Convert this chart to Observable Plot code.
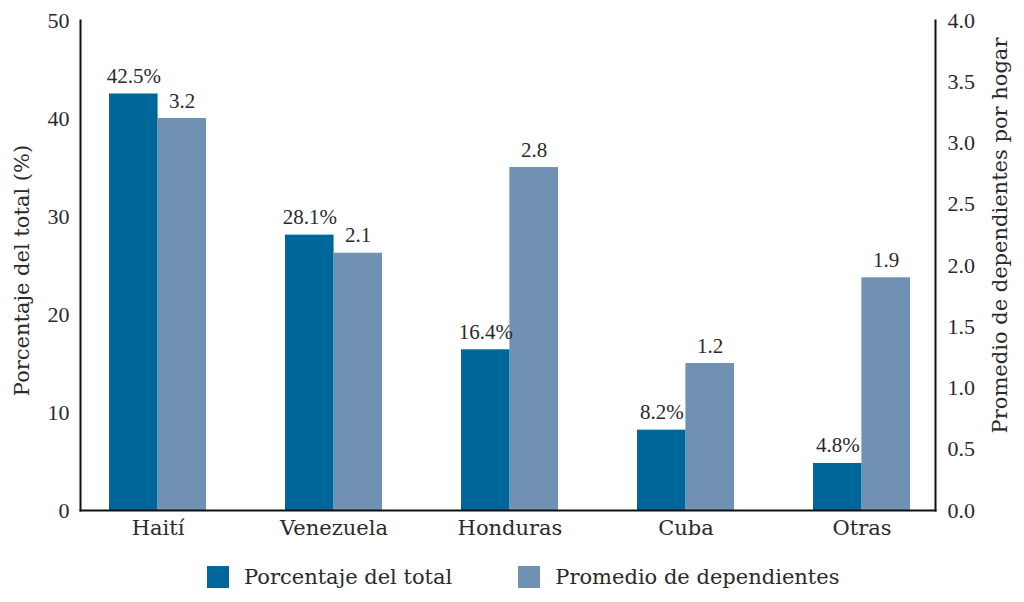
<!DOCTYPE html>
<html>
<head>
<meta charset="utf-8">
<script src="https://cdn.jsdelivr.net/npm/d3@7"></script>
<script src="https://cdn.jsdelivr.net/npm/@observablehq/plot@0.6"></script>
<style>
  html, body { margin: 0; padding: 0; background: #fff; }
  body { width: 1024px; height: 602px; overflow: hidden; font-family: "DejaVu Serif", serif; color: #2a2a2a; }
  #chart svg { display: block; }
  .legend { display: flex; justify-content: flex-start; align-items: center; font-size: 21px; margin-top: 17px; padding-left: 207px; }
  .legend .item { display: flex; align-items: center; gap: 15px; }
  .legend .sw { width: 22px; height: 22px; display: inline-block; }
</style>
</head>
<body>
<div id="chart"></div>
<div class="legend" id="legend"></div>
<script>
const countries = ["Haití", "Venezuela", "Honduras", "Cuba", "Otras"];
const pctTotal = [42.5, 28.1, 16.4, 8.2, 4.8];
const dependents = [3.2, 2.1, 2.8, 1.2, 1.9];
const leftTicks = [0, 10, 20, 30, 40, 50];
const rightTicks = [0, 0.5, 1, 1.5, 2, 2.5, 3, 3.5, 4];
const seriesNames = ["Porcentaje del total", "Promedio de dependientes"];
const colors = ["#00679b", "#7191b4"];
const leftTitle = "Porcentaje del total (%)";
const rightTitle = "Promedio de dependientes por hogar";

const ratio = 50 / 4; // right axis (0–4) mapped onto left axis (0–50)
const pctData = countries.map((c, i) => ({country: c, value: pctTotal[i]}));
const depData = countries.map((c, i) => ({country: c, value: dependents[i], scaled: dependents[i] * ratio}));

const half = 96.8 / 2;
const numFont = "Liberation Serif, serif";
const wordFont = "DejaVu Serif, serif";

const plot = Plot.plot({
  width: 1024,
  height: 548,
  marginTop: 20,
  marginBottom: 38,
  marginLeft: 80,
  marginRight: 89,
  style: {fontFamily: wordFont, fontSize: "20px", color: "#2a2a2a", background: "white"},
  x: {domain: countries, range: [69, 949], paddingInner: 0.45, paddingOuter: 0.225, label: null},
  y: {domain: [0, 50], label: null},
  marks: [
    Plot.barY(pctData, {x: "country", y: "value", fill: colors[0], insetRight: half}),
    Plot.barY(depData, {x: "country", y: "scaled", fill: colors[1], insetLeft: half}),
    Plot.text(pctData, {x: "country", y: "value", text: d => d.value.toFixed(1) + "%", dx: -half / 2, dy: -11, lineAnchor: "bottom", fontSize: 21, fontFamily: numFont, fill: "#2a2a2a"}),
    Plot.text(depData, {x: "country", y: "scaled", text: d => d.value.toFixed(1), dx: half / 2, dy: -11, lineAnchor: "bottom", fontSize: 21, fontFamily: numFont, fill: "#2a2a2a"}),
    Plot.axisX({tickSize: 0, tickPadding: 10, fontSize: 21, fontFamily: wordFont, label: null}),
    Plot.axisY({anchor: "left", ticks: leftTicks, tickSize: 0, tickPadding: 11, fontSize: 22, fontFamily: numFont, label: null}),
    Plot.axisY({anchor: "right", ticks: rightTicks.map(v => v * ratio), tickFormat: d => (d / ratio).toFixed(1), tickSize: 0, tickPadding: 12, fontSize: 22, fontFamily: numFont, label: null}),
    Plot.text([leftTitle], {frameAnchor: "left", textAnchor: "middle", text: d => d, rotate: -90, dx: -58, dy: 5, fontSize: 21, fontFamily: wordFont, fill: "#2a2a2a"}),
    Plot.text([rightTitle], {frameAnchor: "right", textAnchor: "middle", text: d => d, rotate: -90, dx: 65, dy: -30, fontSize: 21, fontFamily: wordFont, fill: "#2a2a2a"}),
    Plot.frame({anchor: "left", stroke: "#111", strokeWidth: 2}),
    Plot.frame({anchor: "right", stroke: "#111", strokeWidth: 2}),
    Plot.frame({anchor: "bottom", stroke: "#111", strokeWidth: 2})
  ]
});
document.getElementById("chart").appendChild(plot);

const legend = document.getElementById("legend");
const legendOffsets = [0, 66];
seriesNames.forEach((name, i) => {
  const item = document.createElement("div");
  item.className = "item";
  item.style.marginLeft = legendOffsets[i] + "px";
  const sw = document.createElement("span");
  sw.className = "sw";
  sw.style.background = colors[i];
  const label = document.createElement("span");
  label.textContent = name;
  item.appendChild(sw);
  item.appendChild(label);
  legend.appendChild(item);
});
</script>
</body>
</html>
